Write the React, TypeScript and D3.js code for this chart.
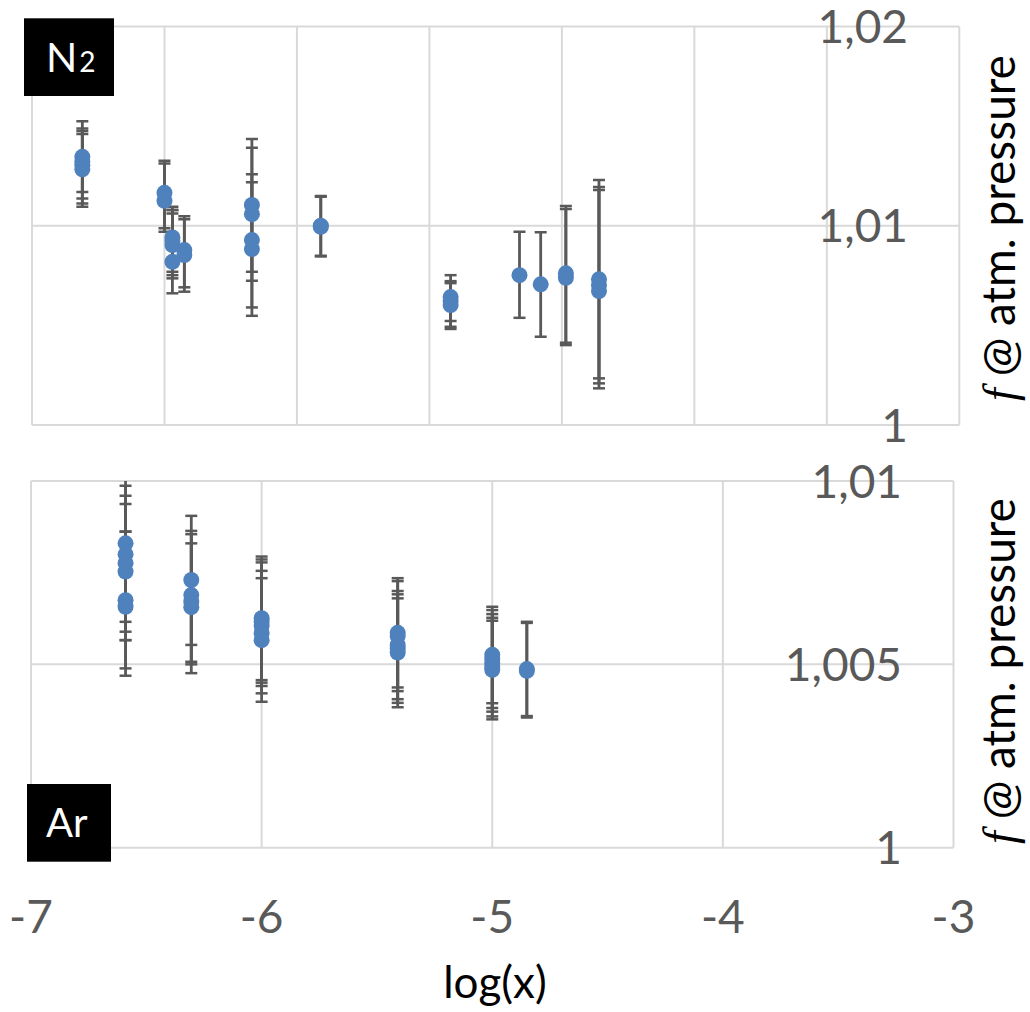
import React from "react";
import * as d3 from "d3";

// ---- data ----
// [log(x), f, lower bound, upper bound]
const n2Points: [number, number, number, number][] = [
  [-6.81, 1.01346, 1.0117, 1.01525],
  [-6.81, 1.01321, 1.01137, 1.01488],
  [-6.81, 1.01304, 1.01112, 1.01475],
  [-6.81, 1.01283, 1.01095, 1.0146],
  [-6.5, 1.01165, 1.00987, 1.01326],
  [-6.5, 1.01125, 1.0097, 1.01313],
  [-6.47, 1.00941, 1.00769, 1.01095],
  [-6.47, 1.00923, 1.00752, 1.01079],
  [-6.47, 1.00903, 1.00736, 1.01079],
  [-6.47, 1.00819, 1.00661, 1.01062],
  [-6.425, 1.00878, 1.00691, 1.01048],
  [-6.425, 1.00853, 1.00669, 1.01032],
  [-6.17, 1.01104, 1.00769, 1.01435],
  [-6.17, 1.01058, 1.00724, 1.01391],
  [-6.17, 1.00928, 1.0059, 1.01259],
  [-6.17, 1.00883, 1.00548, 1.01218],
  [-5.91, 1.01, 1.00849, 1.01149],
  [-5.91, 1.00995, 1.00846, 1.01146],
  [-5.42, 1.00642, 1.00522, 1.00752],
  [-5.42, 1.00622, 1.00493, 1.00722],
  [-5.42, 1.00602, 1.00482, 1.00712],
  [-5.16, 1.00752, 1.00538, 1.0097],
  [-5.08, 1.00706, 1.00443, 1.00967],
  [-4.985, 1.00761, 1.00413, 1.01099],
  [-4.985, 1.00739, 1.00401, 1.01084],
  [-4.86, 1.00731, 1.00234, 1.01229],
  [-4.86, 1.00702, 1.00209, 1.01195],
  [-4.86, 1.00672, 1.00184, 1.01179],
];

const arPoints: [number, number, number, number][] = [
  [-6.59, 1.0083, 1.00616, 1.0103],
  [-6.59, 1.008, 1.00589, 1.00987],
  [-6.59, 1.00776, 1.00566, 1.0096],
  [-6.59, 1.00753, 1.00566, 1.00937],
  [-6.59, 1.00675, 1.00489, 1.00862],
  [-6.59, 1.00657, 1.00469, 1.00862],
  [-6.305, 1.0073, 1.00553, 1.00905],
  [-6.305, 1.00689, 1.00507, 1.00864],
  [-6.305, 1.00671, 1.005, 1.00855],
  [-6.305, 1.00656, 1.00476, 1.0083],
  [-6.0, 1.00626, 1.00457, 1.00794],
  [-6.0, 1.00616, 1.0045, 1.00786],
  [-6.0, 1.00605, 1.00441, 1.00778],
  [-6.0, 1.00585, 1.00421, 1.00755],
  [-6.0, 1.00566, 1.00398, 1.00735],
  [-5.41, 1.00586, 1.00437, 1.00735],
  [-5.41, 1.00577, 1.00427, 1.00727],
  [-5.41, 1.00553, 1.00405, 1.007],
  [-5.41, 1.00543, 1.00395, 1.00691],
  [-5.41, 1.00532, 1.00383, 1.0068],
  [-5.0, 1.00526, 1.00394, 1.00657],
  [-5.0, 1.00515, 1.00381, 1.00648],
  [-5.0, 1.00504, 1.00371, 1.00637],
  [-5.0, 1.00493, 1.00358, 1.00627],
  [-5.0, 1.00485, 1.0035, 1.00619],
  [-4.85, 1.00487, 1.00359, 1.00616],
  [-4.85, 1.00482, 1.00355, 1.00613],
];

const topXGrid = [-7, -6.5, -6, -5.5, -5, -4.5, -4, -3.5];
const topYTicks = [1, 1.01, 1.02];
const topYLabels = ["1", "1,01", "1,02"];
const botXTicks = [-7, -6, -5, -4, -3];
const botXLabels = ["-7", "-6", "-5", "-4", "-3"];
const botYTicks = [1, 1.005, 1.01];
const botYLabels = ["1", "1,005", "1,01"];

const FONT = "Lato, 'Open Sans', sans-serif";
const GRID = "#d9d9d9";
const TICK = "#595959";
const ERR = "#595959";
const DOT = "#4f81bd";

type Pt = [number, number, number, number];

function Panel(props: {
  id: string;
  x: d3.ScaleLinear<number, number>;
  y: d3.ScaleLinear<number, number>;
  xGrid: number[];
  yTicks: number[];
  yLabels: string[];
  labelRight: number;
  points: Pt[];
}) {
  const { id, x, y, xGrid, yTicks, yLabels, labelRight, points } = props;
  const [x0, x1] = x.range();
  const [y0, y1] = y.range();
  const cap = 6;
  return (
    <g>
      <defs>
        <clipPath id={id}>
          <rect x={x0} y={y1} width={x1 - x0} height={y0 - y1} />
        </clipPath>
      </defs>
      {xGrid.map((t) => (
        <line key={"gx" + t} x1={x(t)} x2={x(t)} y1={y0} y2={y1} stroke={GRID} strokeWidth={2} />
      ))}
      {yTicks.map((t) => (
        <line key={"gy" + t} x1={x0} x2={x1} y1={y(t)} y2={y(t)} stroke={GRID} strokeWidth={2} />
      ))}
      <g clipPath={`url(#${id})`}>
        {points.map((p, i) => (
          <g key={"e" + i} stroke={ERR}>
            <line x1={x(p[0])} x2={x(p[0])} y1={y(p[2])} y2={y(p[3])} strokeWidth={2.8} />
            <line x1={x(p[0]) - cap} x2={x(p[0]) + cap} y1={y(p[2])} y2={y(p[2])} strokeWidth={2.5} />
            <line x1={x(p[0]) - cap} x2={x(p[0]) + cap} y1={y(p[3])} y2={y(p[3])} strokeWidth={2.5} />
          </g>
        ))}
        {points.map((p, i) => (
          <circle key={"c" + i} cx={x(p[0])} cy={y(p[1])} r={8} fill={DOT} />
        ))}
      </g>
      {yTicks.map((t, i) => (
        <text
          key={"yl" + t}
          x={labelRight}
          y={y(t) + 16.5}
          textAnchor="end"
          fontFamily={FONT}
          fontSize={46}
          fill={TICK}
        >
          {yLabels[i]}
        </text>
      ))}
    </g>
  );
}

function YTitle(props: { cx: number; cy: number }) {
  return (
    <text
      transform={`translate(${props.cx},${props.cy}) rotate(-90)`}
      textAnchor="middle"
      fontFamily={FONT}
      fontSize={46}
      fill="#000"
    >
      <tspan fontFamily="'Liberation Serif', serif" fontStyle="italic">f</tspan>
      <tspan> @ atm. pressure</tspan>
    </text>
  );
}

export default function App() {
  const topX = d3.scaleLinear().domain([-7, -3.5]).range([32, 959.3]);
  const topY = d3.scaleLinear().domain([1, 1.02]).range([425, 26.5]);
  const botX = d3.scaleLinear().domain([-7, -3]).range([31, 953.5]);
  const botY = d3.scaleLinear().domain([1, 1.01]).range([847.7, 481]);

  return (
    <svg
      width={1030}
      height={1012}
      style={{ position: "absolute", left: 0, top: 0, background: "#fff" }}
    >
      <rect x={0} y={0} width={1030} height={1012} fill="#fff" />
      <Panel
        id="clipTop"
        x={topX}
        y={topY}
        xGrid={topXGrid}
        yTicks={topYTicks}
        yLabels={topYLabels}
        labelRight={908}
        points={n2Points}
      />
      <Panel
        id="clipBot"
        x={botX}
        y={botY}
        xGrid={botXTicks}
        yTicks={botYTicks}
        yLabels={botYLabels}
        labelRight={902}
        points={arPoints}
      />
      {botXTicks.map((t, i) => (
        <text
          key={"xl" + t}
          x={botX(t)}
          y={933}
          textAnchor="middle"
          fontFamily={FONT}
          fontSize={46}
          fill={TICK}
        >
          {botXLabels[i]}
        </text>
      ))}
      <text x={495} y={998} textAnchor="middle" fontFamily={FONT} fontSize={44} fill="#000">
        log(x)
      </text>
      <YTitle cx={1015} cy={228} />
      <YTitle cx={1015} cy={671} />

      <rect x={24} y={18.3} width={90} height={77.7} fill="#000" />
      <text x={46} y={71.7} fontFamily={FONT} fontSize={41} fill="#fff">
        N<tspan fontSize={28} dx={2}>2</tspan>
      </text>
      <rect x={27} y={784} width={84} height={77.7} fill="#000" />
      <text x={46} y={837.3} fontFamily={FONT} fontSize={40} fill="#fff">
        Ar
      </text>
    </svg>
  );
}
